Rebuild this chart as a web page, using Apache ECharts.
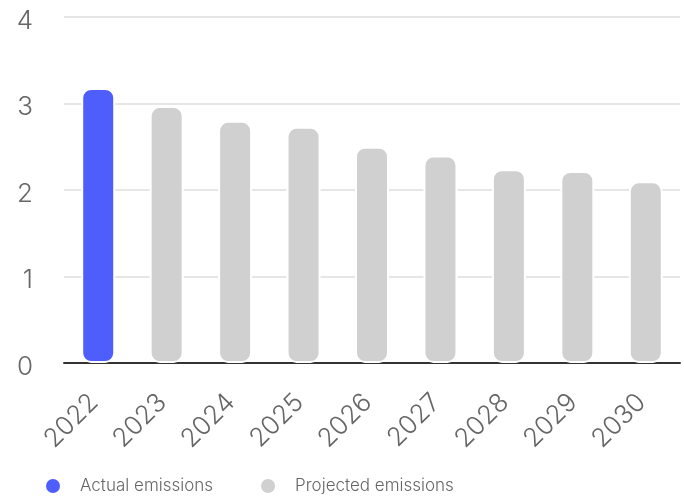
<!DOCTYPE html>
<html>
<head>
<meta charset="utf-8">
<script src="https://cdn.jsdelivr.net/npm/echarts@6/dist/echarts.min.js"></script>
<style>
  html, body { margin: 0; padding: 0; background: #fff; }
  #chart { width: 684px; height: 497px; }
</style>
</head>
<body>
<div id="chart"></div>
<script>
// 数据
var years = ['2022', '2023', '2024', '2025', '2026', '2027', '2028', '2029', '2030'];
var actual = [3.18, '-', '-', '-', '-', '-', '-', '-', '-'];
var projected = ['-', 2.97, 2.80, 2.73, 2.50, 2.40, 2.24, 2.22, 2.10];
var yTicks = [0, 1, 2, 3, 4];

var myChart = echarts.init(document.getElementById('chart'));

var barStyle = function (color) {
    return {
        color: color,
        borderRadius: 9,
        borderColor: '#fff',
        borderWidth: 2
    };
};

var option = {
    animation: false,
    textStyle: { fontFamily: 'Inter, sans-serif' },
    grid: { left: 64, right: 4, top: 17, bottom: 134 },
    legend: {
        bottom: -3,
        left: 39,
        icon: 'circle',
        itemWidth: 16,
        itemHeight: 16,
        itemGap: 46,
        textStyle: {
            color: '#666',
            fontSize: 17,
            fontWeight: 300,
            padding: [0, 0, 0, 14]
        },
        data: ['Actual emissions', 'Projected emissions']
    },
    xAxis: {
        type: 'category',
        data: years,
        axisLine: { lineStyle: { color: '#333', width: 2 } },
        axisTick: { show: false },
        axisLabel: {
            rotate: 45,
            margin: 31,
            color: '#666',
            fontSize: 26,
            fontWeight: 300,
            padding: [0, 6, 0, 0]
        }
    },
    yAxis: {
        type: 'value',
        min: yTicks[0],
        max: yTicks[yTicks.length - 1],
        interval: 1,
        axisLine: { show: false },
        axisTick: { show: false },
        splitLine: { lineStyle: { color: '#e6e6e6', width: 2 } },
        axisLabel: {
            margin: 31,
            color: '#666',
            fontSize: 26,
            fontWeight: 300,
            formatter: '{a|{value}}',
            rich: { a: { fontSize: 26, fontWeight: 300, color: '#666', padding: [8, 0, 0, 0] } }
        }
    },
    series: [
        {
            name: 'Actual emissions',
            type: 'bar',
            stack: 'total',
            barWidth: 34,
            data: actual,
            itemStyle: barStyle('#4d5efc')
        },
        {
            name: 'Projected emissions',
            type: 'bar',
            stack: 'total',
            barWidth: 34,
            data: projected,
            itemStyle: barStyle('#d0d0d0')
        }
    ]
};

myChart.setOption(option);
</script>
</body>
</html>
